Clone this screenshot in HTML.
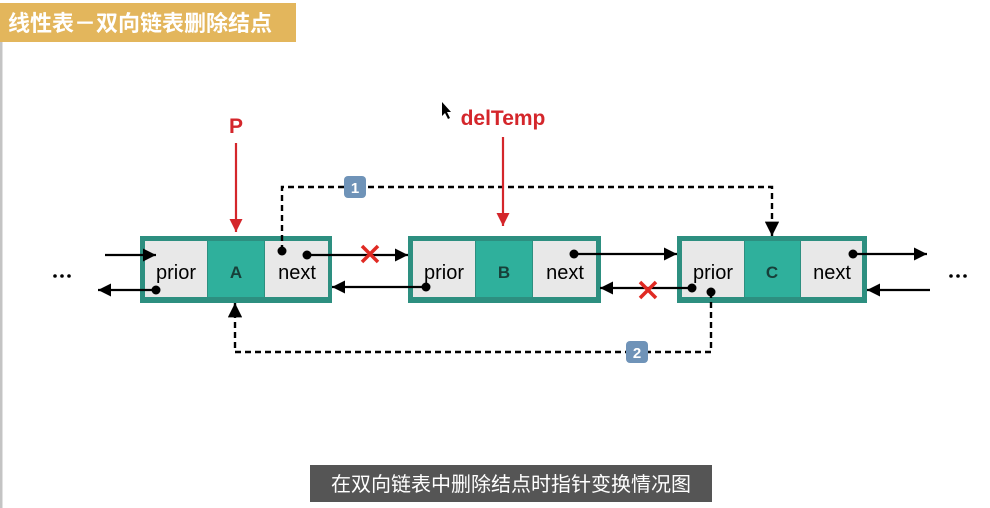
<!DOCTYPE html>
<html><head><meta charset="utf-8"><style>
html,body{margin:0;padding:0;background:#fff;width:990px;height:508px;overflow:hidden}
svg{display:block}
</style></head><body>
<svg width="990" height="508" viewBox="0 0 990 508" xmlns="http://www.w3.org/2000/svg" font-family="Liberation Sans, Noto Sans CJK SC, sans-serif">
<defs>
<marker id="ah" viewBox="0 0 10 10" refX="10" refY="5" markerWidth="6" markerHeight="6" orient="auto"><path d="M0,0 L10,5 L0,10 z" fill="#000"/></marker>
<marker id="ahr" viewBox="0 0 10 10" refX="10" refY="5" markerWidth="6" markerHeight="6" orient="auto"><path d="M0,0 L10,5 L0,10 z" fill="#d4262b"/></marker>
</defs>
<rect x="0" y="42" width="2.5" height="466" fill="#c4c4c4"/>
<rect x="0" y="3" width="296" height="39" fill="#e3b65c"/>
<text x="8" y="31" font-size="22" font-weight="bold" fill="#fff" font-family="Liberation Sans, Noto Sans CJK SC, sans-serif">线性表－双向链表删除结点</text>

<g>
<rect x="140" y="236" width="192" height="67" fill="#2d8f80"/>
<rect x="145" y="241" width="62" height="56" fill="#e8e8e8"/>
<rect x="208" y="241" width="56" height="56" fill="#2fb09c"/>
<rect x="265" y="241" width="63" height="56" fill="#e8e8e8"/>
<text x="176" y="279" font-size="20" text-anchor="middle">prior</text>
<text x="236" y="278" font-size="17" font-weight="bold" fill="#173f39" text-anchor="middle">A</text>
<text x="297" y="279" font-size="20" text-anchor="middle">next</text>
</g>
<g>
<rect x="408" y="236" width="193" height="67" fill="#2d8f80"/>
<rect x="413" y="241" width="62" height="56" fill="#e8e8e8"/>
<rect x="476" y="241" width="56" height="56" fill="#2fb09c"/>
<rect x="533" y="241" width="63" height="56" fill="#e8e8e8"/>
<text x="444" y="279" font-size="20" text-anchor="middle">prior</text>
<text x="504" y="278" font-size="17" font-weight="bold" fill="#173f39" text-anchor="middle">B</text>
<text x="565" y="279" font-size="20" text-anchor="middle">next</text>
</g>
<g>
<rect x="677" y="236" width="190" height="67" fill="#2d8f80"/>
<rect x="682" y="241" width="62" height="56" fill="#e8e8e8"/>
<rect x="745" y="241" width="55" height="56" fill="#2fb09c"/>
<rect x="801" y="241" width="61" height="56" fill="#e8e8e8"/>
<text x="713" y="279" font-size="20" text-anchor="middle">prior</text>
<text x="772" y="278" font-size="17" font-weight="bold" fill="#173f39" text-anchor="middle">C</text>
<text x="832" y="279" font-size="20" text-anchor="middle">next</text>
</g>

<g stroke="#000" stroke-width="2.2" fill="none">
<line x1="105" y1="255" x2="156" y2="255" marker-end="url(#ah)"/>
<line x1="156" y1="290" x2="98" y2="290" marker-end="url(#ah)"/>
<line x1="307" y1="255" x2="408" y2="255" marker-end="url(#ah)"/>
<line x1="426" y1="287" x2="332" y2="287" marker-end="url(#ah)"/>
<line x1="574" y1="254" x2="677" y2="254" marker-end="url(#ah)"/>
<line x1="692" y1="288" x2="600" y2="288" marker-end="url(#ah)"/>
<line x1="853" y1="254" x2="927" y2="254" marker-end="url(#ah)"/>
<line x1="930" y1="290" x2="867" y2="290" marker-end="url(#ah)"/>
</g>
<g fill="#000">
<circle cx="156" cy="290" r="4.5"/><circle cx="282" cy="251" r="4.5"/><circle cx="307" cy="255" r="4.5"/>
<circle cx="426" cy="287" r="4.5"/><circle cx="574" cy="254" r="4.5"/>
<circle cx="692" cy="288" r="4.5"/><circle cx="711" cy="292" r="4.5"/><circle cx="853" cy="254" r="4.5"/>
</g>
<g stroke="#000" stroke-width="2.4" fill="none" stroke-dasharray="6,4">
<polyline points="282,251 282,187 772,187 772,236" marker-end="url(#ah)"/>
<polyline points="711,292 711,352 235,352 235,303" marker-end="url(#ah)"/>
</g>
<rect x="344" y="176" width="22" height="22" rx="4" fill="#6f93b8"/>
<text x="355" y="193" font-size="15" font-weight="bold" fill="#fff" text-anchor="middle">1</text>
<rect x="626" y="341" width="22" height="22" rx="4" fill="#6f93b8"/>
<text x="637" y="358" font-size="15" font-weight="bold" fill="#fff" text-anchor="middle">2</text>
<g stroke="#e02a23" stroke-width="3.5">
<line x1="362" y1="246" x2="378" y2="262"/><line x1="378" y1="246" x2="362" y2="262"/>
<line x1="640" y1="282" x2="656" y2="298"/><line x1="656" y1="282" x2="640" y2="298"/>
</g>
<text x="236" y="133" font-size="21" font-weight="bold" fill="#d4262b" text-anchor="middle">P</text>
<line x1="236" y1="143" x2="236" y2="232" stroke="#d4262b" stroke-width="2.2" marker-end="url(#ahr)"/>
<text x="503" y="125" font-size="21" font-weight="bold" fill="#d4262b" text-anchor="middle">delTemp</text>
<line x1="503" y1="137" x2="503" y2="226" stroke="#d4262b" stroke-width="2.2" marker-end="url(#ahr)"/>
<path d="M442,102 L442,116 L445,113 L448,119 L450,118 L447,112 L451,112 z" fill="#000"/>
<g fill="#000">
<circle cx="55" cy="276" r="1.8"/><circle cx="62" cy="276" r="1.8"/><circle cx="69" cy="276" r="1.8"/>
<circle cx="951" cy="276" r="1.8"/><circle cx="958" cy="276" r="1.8"/><circle cx="965" cy="276" r="1.8"/>
</g>
<rect x="310" y="465" width="402" height="37" fill="#555"/>
<text x="511" y="491" font-size="20" fill="#fff" text-anchor="middle" font-family="Liberation Sans, Noto Sans CJK SC, sans-serif">在双向链表中删除结点时指针变换情况图</text>
</svg>
</body></html>
